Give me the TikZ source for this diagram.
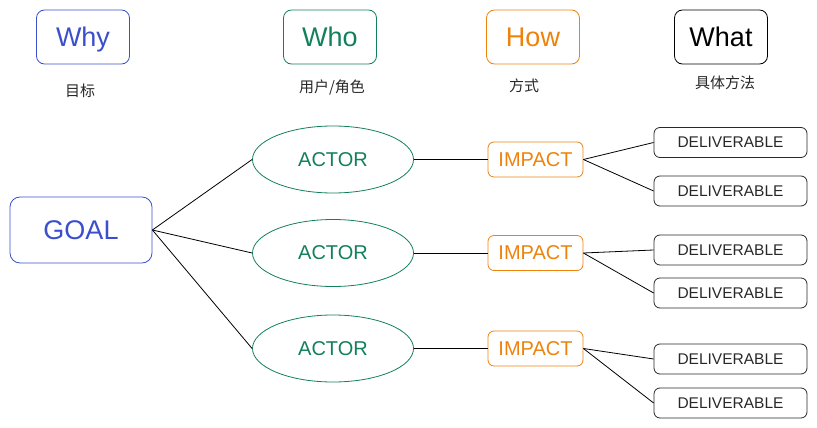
\documentclass[tikz,border=0pt]{standalone}
\usepackage{fontspec}
\setmainfont{Liberation Sans}
\newfontfamily\cjk{Noto Sans CJK SC}
\usetikzlibrary{shapes.geometric}
\definecolor{goalblue}{RGB}{59,79,204}
\definecolor{actorgreen}{RGB}{18,128,92}
\definecolor{impactorange}{RGB}{238,130,10}
\definecolor{delivgray}{RGB}{40,40,40}
\tikzset{
	head/.style={draw, rounded corners=8pt, line width=0.8pt, minimum width=93pt, minimum height=54pt, inner sep=0pt, text height=19pt, text depth=0pt, font=\fontsize{27}{30}\selectfont},
	note/.style={text=delivgray, inner sep=0pt, font=\cjk\fontsize{15}{17}\selectfont},
	goalbox/.style={draw=goalblue, text=goalblue, rounded corners=10pt, line width=0.8pt, minimum width=142pt, minimum height=66pt, inner sep=0pt, font=\fontsize{27}{30}\selectfont},
	actorbox/.style={ellipse, draw=actorgreen, text=actorgreen, line width=0.8pt, minimum width=161pt, minimum height=67pt, inner sep=0pt, font=\fontsize{20}{22}\selectfont},
	impactbox/.style={draw=impactorange, text=impactorange, rounded corners=6pt, line width=0.8pt, minimum width=95pt, minimum height=35pt, inner sep=0pt, font=\fontsize{20}{22}\selectfont},
	delivbox/.style={draw=delivgray, text=delivgray, rounded corners=6pt, line width=0.8pt, minimum width=153pt, minimum height=30pt, inner sep=0pt, font=\fontsize{15.5}{17}\selectfont},
	link/.style={line width=0.8pt}
}
\begin{document}
\begin{tikzpicture}[x=1pt, y=-1pt]
	\useasboundingbox (0,0) rectangle (817,428);
	%column headers
	\node[head, draw=goalblue, text=goalblue] (why) at (83,37) {Why};
	\node[head, draw=actorgreen, text=actorgreen] (who) at (330,37) {Who};
	\node[head, draw=impactorange, text=impactorange] (how) at (533,37) {How};
	\node[head, draw=black, text=black] (what) at (721,37) {What};
	\node[note] (whynote) at (80,91) {目标};
	\node[note] (whonote) at (332,87.5) {用户/角色};
	\node[note] (hownote) at (524,86) {方式};
	\node[note] (whatnote) at (725,83) {具体方法};

	%goal, actors and impacts
	\node[goalbox] (goal) at (81,230) {GOAL};
	\foreach \i/\y in {1/159.5,2/253,3/348.5}{
		\node[actorbox] (actor\i) at (333,\y) {ACTOR};
		\node[impactbox] (impact\i) at (535.5,\y) {IMPACT};
		\draw[link] (goal.east) -- (actor\i.west);
		\draw[link] (actor\i.east) -- (impact\i.west);
	}

	%deliverables, two per impact
	\foreach \i/\y in {1/142.5,2/191,3/250,4/293,5/359,6/403}{
		\node[delivbox] (deliv\i) at (730.5,\y) {DELIVERABLE};
	}
	\draw[link] (impact1.east) -- (deliv1.west);	\draw[link] (impact1.east) -- (deliv2.west);
	\draw[link] (impact2.east) -- (deliv3.west);	\draw[link] (impact2.east) -- (deliv4.west);
	\draw[link] (impact3.east) -- (deliv5.west);	\draw[link] (impact3.east) -- (deliv6.west);
\end{tikzpicture}
\end{document}
